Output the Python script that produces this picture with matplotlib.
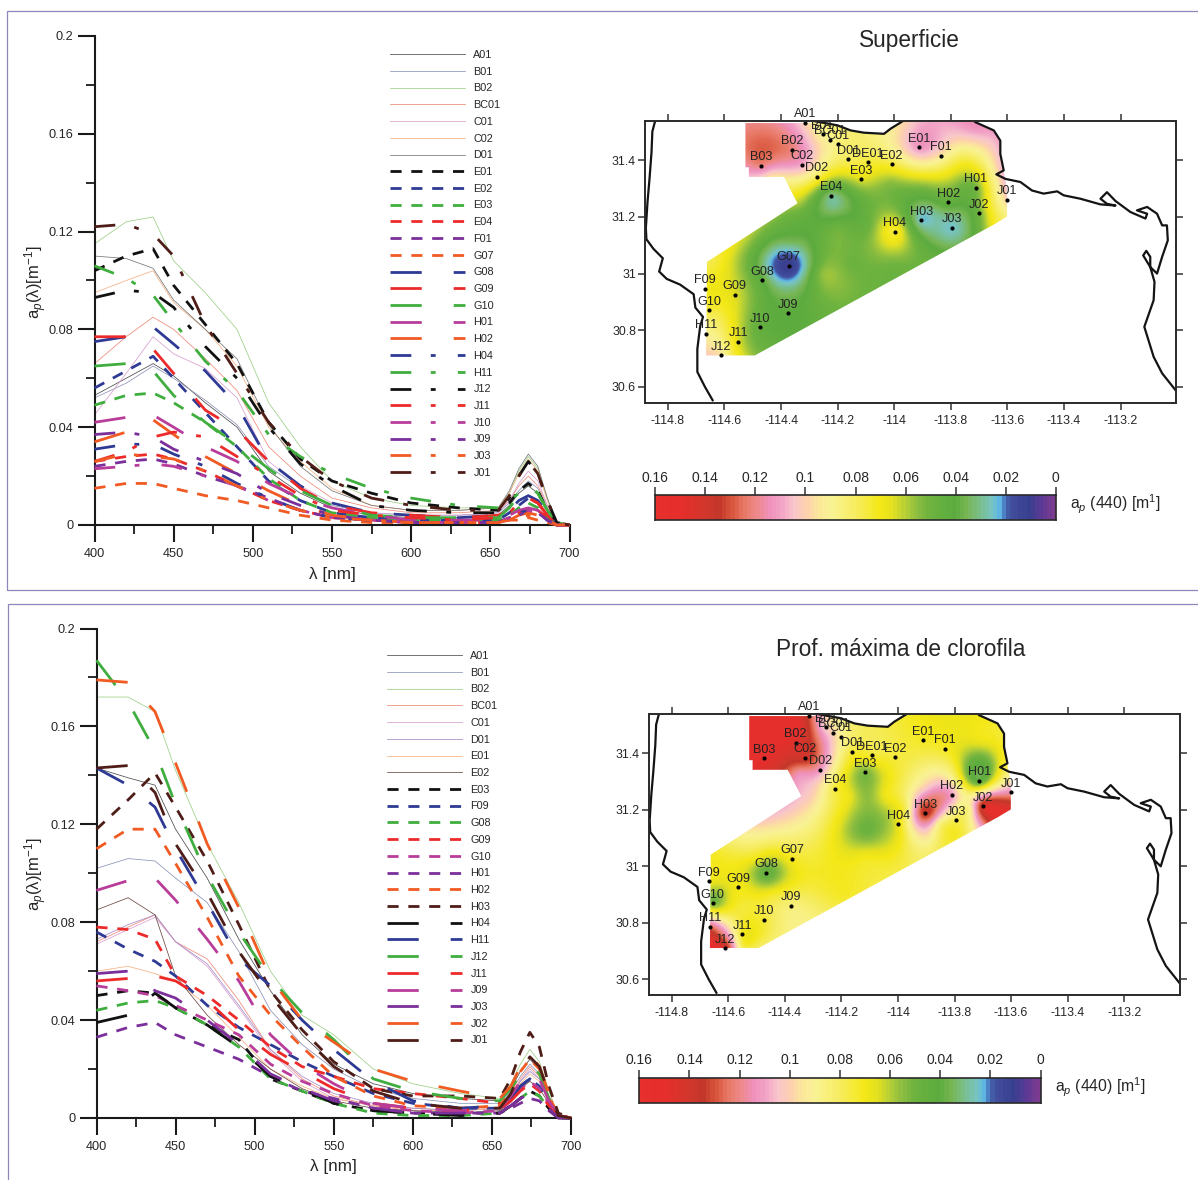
import numpy as np
import matplotlib
matplotlib.use('Agg')
import matplotlib.pyplot as plt
from matplotlib.colors import LinearSegmentedColormap, Normalize
from matplotlib.patches import Polygon, Rectangle
from matplotlib.ticker import FixedLocator, FixedFormatter

plt.rcParams['font.family'] = ['Liberation Sans', 'DejaVu Sans']
plt.rcParams['mathtext.fontset'] = 'custom'
plt.rcParams['mathtext.rm'] = 'Liberation Sans'
plt.rcParams['mathtext.it'] = 'Liberation Sans:italic'
plt.rcParams['lines.scale_dashes'] = False
plt.rcParams['text.color'] = '#262626'
plt.rcParams['xtick.labelcolor'] = '#262626'
plt.rcParams['ytick.labelcolor'] = '#262626'

W, H = 1198, 1180

# ---------- spectra: wavelengths shared by all series ----------
WL = [400, 420, 437, 450, 470, 490, 510, 530, 550, 575, 600, 630, 655, 662, 668, 674, 680, 686, 692, 700]

TOP_NAMES = ['A01', 'B01', 'B02', 'BC01', 'C01', 'C02', 'D01',
             'E01', 'E02', 'E03', 'E04', 'F01', 'G07',
             'G08', 'G09', 'G10', 'H01', 'H02',
             'H04', 'H11', 'J12', 'J11', 'J10', 'J09', 'J03', 'J01']
TOP_SPECTRA = [
    [.053, .060, .066, .061, .050, .040, .022, .013, .007, .004, .003, .003, .004, .008, .013, .016, .013, .006, .001, 0],
    [.052, .058, .065, .060, .051, .041, .024, .015, .008, .005, .004, .004, .005, .009, .014, .018, .015, .007, .001, 0],
    [.115, .124, .126, .108, .095, .080, .050, .032, .018, .011, .008, .007, .007, .013, .022, .028, .023, .011, .001, 0],
    [.066, .077, .085, .080, .068, .055, .032, .020, .011, .007, .005, .005, .006, .010, .016, .020, .016, .008, .001, 0],
    [.045, .062, .077, .070, .064, .052, .026, .016, .009, .005, .004, .004, .005, .010, .017, .022, .018, .008, .001, 0],
    [.095, .100, .104, .091, .080, .065, .040, .026, .015, .008, .006, .006, .007, .013, .021, .027, .022, .010, .001, 0],
    [.110, .109, .105, .092, .080, .068, .041, .024, .014, .008, .006, .006, .007, .014, .023, .029, .024, .011, .001, 0],
    [.104, .110, .113, .098, .082, .066, .042, .027, .018, .013, .009, .007, .006, .009, .014, .017, .014, .006, .001, 0],
    [.056, .063, .069, .060, .046, .032, .018, .010, .005, .003, .002, .002, .002, .005, .008, .011, .009, .004, 0, 0],
    [.049, .053, .054, .050, .042, .032, .019, .010, .005, .003, .002, .002, .002, .004, .007, .009, .007, .003, 0, 0],
    [.026, .028, .029, .027, .022, .016, .010, .006, .003, .002, .001, .001, .001, .003, .005, .007, .006, .003, 0, 0],
    [.024, .026, .027, .025, .020, .016, .011, .006, .003, .002, .001, .001, .001, .003, .004, .006, .005, .002, 0, 0],
    [.015, .017, .017, .015, .012, .010, .007, .004, .002, .001, .001, .001, .001, .002, .002, .003, .002, .001, 0, 0],
    [.075, .077, .081, .074, .063, .049, .026, .016, .009, .005, .004, .003, .004, .006, .010, .012, .010, .005, 0, 0],
    [.077, .077, .072, .062, .047, .039, .026, .015, .008, .005, .004, .003, .004, .006, .009, .011, .009, .004, 0, 0],
    [.065, .066, .063, .053, .042, .033, .023, .014, .008, .004, .003, .003, .003, .007, .012, .016, .013, .006, .001, 0],
    [.042, .044, .045, .040, .032, .026, .017, .011, .007, .004, .002, .002, .002, .004, .006, .007, .006, .003, 0, 0],
    [.034, .038, .043, .037, .028, .021, .014, .008, .004, .002, .001, .001, .001, .002, .004, .005, .004, .002, 0, 0],
    [.031, .033, .033, .029, .024, .017, .011, .006, .003, .002, .001, .001, .001, .003, .005, .006, .005, .002, 0, 0],
    [.106, .101, .094, .083, .067, .055, .037, .028, .021, .015, .011, .008, .007, .010, .013, .016, .013, .006, .001, 0],
    [.093, .096, .095, .089, .073, .060, .040, .025, .016, .008, .006, .005, .005, .011, .020, .026, .021, .010, .001, 0],
    [.026, .030, .036, .038, .036, .028, .020, .012, .006, .004, .003, .002, .003, .005, .009, .011, .009, .004, 0, 0],
    [.023, .024, .025, .024, .020, .016, .010, .006, .003, .002, .001, .001, .001, .003, .004, .006, .005, .002, 0, 0],
    [.037, .038, .036, .031, .026, .021, .013, .008, .004, .002, .001, .001, .001, .003, .004, .006, .005, .002, 0, 0],
    [.026, .029, .028, .027, .022, .016, .010, .006, .003, .002, .001, .001, .001, .002, .003, .004, .003, .002, 0, 0],
    [.122, .123, .119, .110, .082, .062, .042, .028, .018, .011, .008, .006, .006, .012, .020, .026, .021, .010, .001, 0],
]
TOP_STYLES = ['thin'] * 7 + ['dash'] * 6 + ['long'] * 5 + ['dot'] * 8
TOP_COLORS = ['#4d4d4d', '#8c93b8', '#9ccf86', '#ef8a78', '#d9a0d0', '#f4b183', '#777777',
              '#111111', '#2e3a94', '#3fae3f', '#ed2a2a', '#7b2f9b', '#f15a22',
              '#2e3a94', '#ed2a2a', '#3fae3f', '#b83d9a', '#f15a22',
              '#2e3a94', '#3fae3f', '#111111', '#ed2a2a', '#b83d9a', '#7b2f9b', '#f15a22', '#4f1d18']

BOT_NAMES = ['A01', 'B01', 'B02', 'BC01', 'C01', 'D01', 'E01', 'E02',
             'E03', 'F09', 'G08', 'G09', 'G10', 'H01', 'H02', 'H03',
             'H04', 'H11', 'J12', 'J11', 'J09', 'J03', 'J02', 'J01']
BOT_SPECTRA = [
    [.143, .139, .136, .118, .098, .073, .052, .034, .022, .014, .010, .008, .007, .012, .019, .024, .020, .009, .001, 0],
    [.102, .106, .105, .098, .088, .068, .044, .030, .020, .012, .008, .006, .006, .011, .017, .022, .018, .008, .001, 0],
    [.172, .172, .166, .142, .112, .088, .060, .042, .034, .020, .014, .010, .008, .014, .022, .028, .023, .011, .001, 0],
    [.072, .078, .083, .072, .065, .048, .028, .016, .009, .005, .004, .003, .004, .009, .016, .021, .017, .008, .001, 0],
    [.071, .077, .082, .072, .062, .045, .027, .015, .008, .005, .003, .003, .004, .009, .015, .020, .016, .008, .001, 0],
    [.073, .079, .083, .072, .063, .046, .028, .017, .010, .006, .004, .003, .004, .008, .015, .019, .016, .007, .001, 0],
    [.060, .062, .059, .056, .046, .033, .020, .013, .008, .005, .003, .003, .004, .008, .014, .018, .015, .007, .001, 0],
    [.085, .090, .083, .058, .042, .030, .020, .012, .007, .004, .003, .002, .003, .007, .012, .015, .012, .006, .001, 0],
    [.050, .052, .051, .045, .038, .032, .016, .011, .006, .003, .002, .002, .002, .005, .008, .011, .009, .004, 0, 0],
    [.076, .069, .064, .058, .046, .037, .030, .023, .017, .010, .006, .004, .004, .008, .013, .016, .013, .006, .001, 0],
    [.044, .047, .048, .045, .038, .029, .016, .011, .006, .002, .001, .001, .002, .005, .008, .011, .009, .004, 0, 0],
    [.078, .077, .073, .058, .050, .040, .029, .021, .017, .012, .010, .008, .006, .008, .012, .014, .011, .005, .001, 0],
    [.054, .052, .050, .046, .040, .034, .022, .015, .010, .005, .003, .002, .003, .007, .012, .015, .012, .006, .001, 0],
    [.033, .037, .039, .034, .029, .024, .017, .011, .008, .004, .002, .002, .002, .004, .006, .008, .007, .003, 0, 0],
    [.110, .118, .118, .104, .082, .058, .042, .029, .017, .009, .005, .004, .005, .011, .019, .024, .020, .009, .001, 0],
    [.118, .130, .141, .127, .105, .079, .052, .036, .023, .012, .009, .009, .008, .016, .027, .035, .029, .013, .002, 0],
    [.039, .042, .051, .045, .038, .029, .017, .012, .006, .003, .002, .001, .002, .005, .008, .011, .009, .004, 0, 0],
    [.143, .136, .127, .110, .088, .065, .054, .040, .028, .015, .007, .004, .005, .008, .013, .016, .013, .006, .001, 0],
    [.187, .170, .150, .128, .099, .076, .057, .043, .032, .016, .011, .008, .007, .012, .018, .022, .018, .008, .001, 0],
    [.056, .057, .058, .056, .048, .036, .026, .019, .012, .006, .004, .003, .004, .007, .011, .014, .011, .005, .001, 0],
    [.093, .097, .098, .089, .073, .056, .034, .022, .014, .006, .004, .003, .004, .009, .015, .019, .016, .007, .001, 0],
    [.059, .060, .052, .049, .040, .030, .018, .012, .007, .004, .002, .002, .002, .005, .008, .010, .008, .004, 0, 0],
    [.179, .178, .166, .145, .112, .086, .057, .040, .031, .020, .015, .011, .008, .013, .021, .026, .021, .010, .001, 0],
    [.143, .144, .133, .112, .092, .068, .050, .034, .021, .011, .006, .004, .004, .010, .019, .025, .021, .010, .001, 0],
]
BOT_STYLES = ['thin'] * 8 + ['dash'] * 8 + ['long'] * 8
BOT_COLORS = ['#4d4d4d', '#8c93b8', '#9ccf86', '#ef8a78', '#d9a0d0', '#a58cc8', '#f4b183', '#6b4a44',
              '#111111', '#2e3a94', '#3fae3f', '#ed2a2a', '#b83d9a', '#7b2f9b', '#f15a22', '#4f1d18',
              '#111111', '#2e3a94', '#3fae3f', '#ed2a2a', '#b83d9a', '#7b2f9b', '#f15a22', '#4f1d18']

Y_TICKS = [0, .04, .08, .12, .16, .2]
Y_LABELS = ['0', '0.04', '0.08', '0.12', '0.16', '0.2']
X_TICKS = [400, 450, 500, 550, 600, 650, 700]

# ---------- stations ----------
ST_NAMES = ['A01', 'B01', 'BC01', 'C01', 'B02', 'B03', 'C02', 'D02', 'D01', 'DE01', 'E02', 'E03', 'E04',
            'E01', 'F01', 'H01', 'H02', 'H03', 'H04', 'J01', 'J02', 'J03', 'G07', 'G08', 'G09', 'F09',
            'G10', 'H11', 'J12', 'J11', 'J10', 'J09']
ST_LON = [-114.315, -114.253, -114.228, -114.200, -114.362, -114.472, -114.327, -114.274, -114.162, -114.092,
          -114.009, -114.116, -114.223, -113.911, -113.834, -113.712, -113.809, -113.904, -113.999, -113.601,
          -113.699, -113.795, -114.373, -114.466, -114.564, -114.668, -114.655, -114.665, -114.611, -114.551,
          -114.474, -114.377]
ST_LAT = [31.532, 31.492, 31.472, 31.457, 31.437, 31.381, 31.384, 31.341, 31.404, 31.392,
          31.385, 31.332, 31.274, 31.445, 31.415, 31.303, 31.252, 31.188, 31.148, 31.261,
          31.212, 31.162, 31.027, 30.977, 30.925, 30.947, 30.870, 30.787, 30.711, 30.759,
          30.811, 30.860]
ST_TOP = [.100, .090, .090, .085, .122, .122, .110, .080, .080, .075, .075, .065, .030,
          .113, .095, .050, .045, .024, .075, .100, .050, .024, .008, .040, .065, .070,
          .075, .090, .095, .065, .045, .040]
ST_BOT = [.130, .100, .100, .090, .145, .150, .140, .112, .075, .075, .075, .052, .075,
          .072, .072, .040, .112, .140, .068, .115, .145, .078, .072, .045, .070, .070,
          .050, .125, .140, .072, .075, .085]

EX_TOP_LON = [-114.526, -114.432, -114.526, -114.432, -114.350, -114.342, -114.637, -114.500, -114.365, -114.200,
              -114.215, -114.160, -114.257, -114.365, -114.013, -114.095, -113.905, -114.000, -113.820, -113.743,
              -113.650, -113.605, -113.605, -113.635, -113.824, -113.716, -113.960, -113.757, -113.892, -114.014,
              -113.797, -113.676, -113.676, -114.432, -114.500, -114.581, -114.660, -114.460, -114.581, -114.297,
              -114.378, -114.230, -114.095, -114.581, -114.635, -114.370, -113.850]
EX_TOP_LAT = [31.531, 31.508, 31.375, 31.341, 31.330, 31.248, 31.027, 31.120, 31.210, 31.160,
              31.215, 31.030, 31.000, 30.830, 31.135, 31.160, 31.107, 31.030, 31.050, 31.127,
              31.175, 31.200, 31.350, 31.500, 31.515, 31.508, 31.520, 31.415, 31.335, 31.320,
              31.335, 31.320, 31.240, 30.760, 30.720, 30.713, 30.715, 31.027, 31.040, 31.027,
              30.947, 30.894, 30.987, 30.854, 30.840, 31.110, 31.170]
EX_TOP_VAL = [.120, .122, .115, .095, .090, .060, .075, .055, .050, .050,
              .034, .050, .055, .040, .072, .048, .045, .050, .045, .035,
              .070, .085, .110, .112, .108, .112, .100, .080, .065, .055,
              .062, .070, .065, .045, .055, .080, .100, .030, .065, .035,
              .030, .050, .050, .070, .080, .035, .028]

EX_BOT_LON = [-114.520, -114.430, -114.350, -114.520, -114.430, -114.350, -114.300, -114.110, -114.170, -114.050,
              -114.230, -113.990, -114.110, -114.110, -114.180, -114.040, -113.900, -113.900, -113.850, -113.970,
              -113.680, -113.620, -113.750, -113.700, -113.710, -113.710, -113.630, -113.800, -113.900, -113.700,
              -114.000, -114.500, -114.450, -114.300, -114.350, -114.200, -114.660, -114.600, -114.550, -114.650,
              -114.600, -114.550, -114.500, -114.250]
EX_BOT_LAT = [31.530, 31.500, 31.500, 31.350, 31.340, 31.330, 31.250, 31.115, 31.115, 31.115,
              31.115, 31.115, 31.035, 31.250, 31.250, 31.250, 31.270, 31.100, 31.150, 31.200,
              31.200, 31.210, 31.200, 31.130, 31.360, 31.440, 31.340, 31.350, 31.500, 31.520,
              31.300, 31.030, 30.900, 30.950, 30.800, 30.900, 31.040, 30.880, 30.850, 30.720,
              30.720, 30.720, 30.720, 31.050]
EX_BOT_VAL = [.150, .150, .150, .150, .140, .115, .100, .050, .057, .057,
              .070, .070, .070, .055, .070, .070, .105, .095, .085, .080,
              .150, .145, .085, .110, .040, .068, .075, .075, .070, .070,
              .075, .070, .072, .073, .088, .072, .072, .065, .075, .150,
              .130, .075, .078, .072]

# ---------- coast and sampled area, lon/lat ----------
WEST_LON = [-114.845, -114.855, -114.858, -114.865, -114.872, -114.878, -114.876, -114.851, -114.818, -114.831,
            -114.804, -114.757, -114.709, -114.703, -114.676, -114.686, -114.696, -114.696, -114.669, -114.642]
WEST_LAT = [31.539, 31.501, 31.428, 31.335, 31.254, 31.161, 31.121, 31.087, 31.054, 31.007,
            30.981, 30.961, 30.927, 30.880, 30.847, 30.814, 30.734, 30.653, 30.600, 30.553]
NORTH_LON = [-114.278, -114.201, -114.154, -114.107, -114.036, -114.013, -113.966]
NORTH_LAT = [31.537, 31.523, 31.505, 31.497, 31.493, 31.511, 31.540]
EAST_LON = [-113.713, -113.648, -113.625, -113.625, -113.613, -113.639, -113.607, -113.554, -113.513, -113.472,
            -113.424, -113.401, -113.342, -113.271, -113.218, -113.248, -113.271, -113.248, -113.218, -113.165,
            -113.112, -113.106, -113.142, -113.106, -113.071, -113.053, -113.036, -113.033, -113.053, -113.071,
            -113.095, -113.120, -113.109, -113.095, -113.095, -113.080, -113.083, -113.116, -113.083, -113.053,
            -113.006]
EAST_LAT = [31.534, 31.505, 31.469, 31.422, 31.364, 31.350, 31.334, 31.323, 31.293, 31.282,
            31.290, 31.276, 31.264, 31.244, 31.240, 31.246, 31.264, 31.287, 31.256, 31.217,
            31.194, 31.211, 31.223, 31.235, 31.211, 31.170, 31.170, 31.117, 31.059, 31.000,
            31.023, 31.064, 31.080, 31.059, 31.023, 30.971, 30.906, 30.812, 30.706, 30.648,
            30.589]
AREA_LON = [-114.526, -114.300, -114.278, -114.201, -114.154, -114.107, -114.036, -114.013, -113.966, -113.713,
            -113.648, -113.625, -113.625, -113.611, -113.601, -113.601, -113.646, -114.493, -114.665, -114.662,
            -114.342, -114.390, -114.514, -114.514, -114.526]
AREA_LAT = [31.531, 31.531, 31.537, 31.523, 31.505, 31.497, 31.493, 31.511, 31.535, 31.535,
            31.505, 31.469, 31.422, 31.348, 31.294, 31.201, 31.174, 30.711, 30.711, 31.041,
            31.248, 31.341, 31.341, 31.375, 31.375]

LON_TICKS = [-114.8, -114.6, -114.4, -114.2, -114, -113.8, -113.6, -113.4, -113.2]
LON_LABELS = ['-114.8', '-114.6', '-114.4', '-114.2', '-114', '-113.8', '-113.6', '-113.4', '-113.2']
LAT_TICKS = [30.6, 30.8, 31, 31.2, 31.4]
LAT_LABELS = ['30.6', '30.8', '31', '31.2', '31.4']

# ---------- colour scale ----------
CB_VALUES = [0, .005, .01, .018, .02, .022, .025, .03, .035, .04, .05, .055, .06, .065, .07, .08, .085, .09,
             .095, .1, .105, .11, .115, .12, .125, .13, .135, .14, .15, .16]
CB_COLORS = ['#7b3b8f', '#5a3a95', '#393f8f', '#42509f', '#4a7cc0', '#5fb8e4', '#78c3c0', '#79bd8a', '#78b654',
             '#5cab3f', '#6db33f', '#8cbd40', '#b6d036', '#e4e020', '#f4e816', '#f6ec60', '#f8f07a', '#f9f294',
             '#fbe79b', '#fdd0b0', '#f8c5cc', '#f2a3c6', '#ef8fba', '#ee8a8a', '#e87865', '#d9553c', '#c2362a',
             '#d0372c', '#e52f2c', '#e8302e']
CB_TICKS = [.16, .14, .12, .1, .08, .06, .04, .02, 0]
CB_LABELS = ['0.16', '0.14', '0.12', '0.1', '0.08', '0.06', '0.04', '0.02', '0']

DASHES = {'thin': '-',
          'dash': (0, (8.0, 7.0)),
          'long': (0, (22.5, 23.0)),
          'dot': (0, (15.0, 14.0, 3.5, 16.0))}
WIDTHS = {'thin': 0.55, 'dash': 2.0, 'long': 2.0, 'dot': 2.0}

fig = plt.figure(figsize=(W / 100, H / 100), dpi=100, facecolor='white')


def axes_px(x0, y0, x1, y1):
    return fig.add_axes([x0 / W, 1 - y1 / H, (x1 - x0) / W, (y1 - y0) / H])


def fig_text(x, y, s, **kw):
    fig.text(x / W, 1 - y / H, s, ha=kw.pop('ha', 'center'), va=kw.pop('va', 'center'), **kw)


for x0, y0, x1, y1 in [(6.5, 10.5, 1205, 589.5), (7.5, 603.5, 1205, 1190)]:
    fig.add_artist(Rectangle((x0 / W, 1 - y1 / H), (x1 - x0) / W, (y1 - y0) / H, fill=False,
                             edgecolor='#8f86bd', linewidth=0.9, transform=fig.transFigure))


def spectra_panel(box, names, spectra, styles, colors, legend_xy, label_xy, xlabel_xy):
    ax = axes_px(*box)
    for name, vals, st, col in zip(names, spectra, styles, colors):
        ax.plot(WL, vals, color=col, lw=WIDTHS[st], ls=DASHES[st], dash_capstyle='butt', label=name,
                zorder=2 if st == 'thin' else 3, clip_on=False)
    ax.set_xlim(400, 700)
    ax.set_ylim(0, .2)
    for s in ('top', 'right'):
        ax.spines[s].set_visible(False)
    for s in ('left', 'bottom'):
        ax.spines[s].set_linewidth(1.5)
        ax.spines[s].set_color('#1a1a1a')
    ax.xaxis.set_major_locator(FixedLocator(X_TICKS))
    ax.xaxis.set_minor_locator(FixedLocator([425, 475, 525, 575, 625, 675]))
    ax.yaxis.set_major_locator(FixedLocator(Y_TICKS))
    ax.yaxis.set_major_formatter(FixedFormatter(Y_LABELS))
    ax.yaxis.set_minor_locator(FixedLocator([.02, .06, .1, .14, .18]))
    ax.tick_params(which='major', length=12, width=1.5, color='#1a1a1a', labelsize=9.2, pad=3)
    ax.tick_params(which='minor', length=6.5, width=1.3, color='#1a1a1a')
    ax.tick_params(axis='x', which='major', pad=4.5)
    handles, labels = ax.get_legend_handles_labels()
    ax.legend(handles, labels, loc='upper left', frameon=False, fontsize=7.8,
              bbox_to_anchor=((legend_xy[0] - box[0]) / (box[2] - box[0]),
                              1 - (legend_xy[1] - box[1]) / (box[3] - box[1])),
              borderaxespad=0, borderpad=0, handlelength=6.95, handletextpad=0.75,
              labelspacing=0.62)
    fig_text(label_xy[0], label_xy[1], 'a$_{p}$(λ)[m$^{-1}$]', rotation=90, fontsize=12)
    fig_text(xlabel_xy[0], xlabel_xy[1], 'λ [nm]', fontsize=12.3)
    return ax


spectra_panel((94.5, 36, 569.5, 525), TOP_NAMES, TOP_SPECTRA, TOP_STYLES, TOP_COLORS,
              (390, 50), (36, 282), (332, 575))
spectra_panel((96.5, 628.5, 571, 1118), BOT_NAMES, BOT_SPECTRA, BOT_STYLES, BOT_COLORS,
              (387, 651), (36, 874), (333, 1167))

stops = [(v / .16, c) for v, c in zip(CB_VALUES, CB_COLORS)]
cmap = LinearSegmentedColormap.from_list('ap', stops, N=256)
cmap_bands = LinearSegmentedColormap.from_list('ap96', stops, N=96)
norm = Normalize(0, .16)


def smooth_field(lon, lat, val, glon, glat):
    """Thin-plate surface through the values read at the control points."""
    px, py, v = np.asarray(lon), np.asarray(lat), np.asarray(val)

    def kernel(r2):
        out = np.zeros_like(r2)
        ok = r2 > 0
        out[ok] = 0.5 * r2[ok] * np.log(r2[ok])
        return out
    K = kernel((px[:, None] - px[None, :]) ** 2 + (py[:, None] - py[None, :]) ** 2) + 2e-4 * np.eye(len(px))
    P = np.c_[np.ones_like(px), px, py]
    A = np.block([[K, P], [P.T, np.zeros((3, 3))]])
    sol = np.linalg.solve(A, np.r_[v, np.zeros(3)])
    gx, gy = np.meshgrid(glon, glat)
    r2 = (gx[..., None] - px) ** 2 + (gy[..., None] - py) ** 2
    return kernel(r2) @ sol[:len(px)] + sol[-3] + sol[-2] * gx + sol[-1] * gy


def map_panel(box, station_vals, ex_lon, ex_lat, ex_val, title_xy, title, cb_box, cb_label_xy):
    ax = axes_px(*box)
    glon = np.linspace(-114.70, -113.58, 340)
    glat = np.linspace(30.69, 31.55, 260)
    z = smooth_field(ST_LON + ex_lon, ST_LAT + ex_lat, station_vals + ex_val, glon, glat)
    im = ax.imshow(z, extent=(glon[0], glon[-1], glat[0], glat[-1]), origin='lower', cmap=cmap, norm=norm,
                   aspect='auto', interpolation='bilinear', zorder=1)
    clip = Polygon(np.c_[AREA_LON, AREA_LAT], closed=True, transform=ax.transData, fill=False, edgecolor='none')
    ax.add_patch(clip)
    im.set_clip_path(clip)
    for lo, la in [(WEST_LON, WEST_LAT), (NORTH_LON, NORTH_LAT), (EAST_LON, EAST_LAT)]:
        ax.plot(lo, la, color='#141414', lw=1.6, zorder=2)
    ax.scatter(ST_LON, ST_LAT, s=9, color='black', linewidths=0, zorder=4, clip_on=False)
    for n, lo, la in zip(ST_NAMES, ST_LON, ST_LAT):
        ax.annotate(n, (lo, la), xytext=(0, 1.8), textcoords='offset points', ha='center', va='bottom',
                    fontsize=9.1, color='#222222', zorder=5, annotation_clip=False)
    ax.set_xlim(-114.881, -113.004)
    ax.set_ylim(30.545, 31.54)
    ax.xaxis.set_major_locator(FixedLocator(LON_TICKS))
    ax.xaxis.set_major_formatter(FixedFormatter(LON_LABELS))
    ax.yaxis.set_major_locator(FixedLocator(LAT_TICKS))
    ax.yaxis.set_major_formatter(FixedFormatter(LAT_LABELS))
    ax.tick_params(top=True, right=True, length=5, width=1.1, color='#333333', labelsize=8.9, pad=1.5)
    ax.tick_params(axis='x', pad=4)
    for s in ax.spines.values():
        s.set_linewidth(1.4)
        s.set_color('#2a2a2a')
        s.set_zorder(6)
    fig_text(title_xy[0], title_xy[1], title, fontsize=16.3)

    cax = axes_px(*cb_box)
    edges = np.linspace(0, .16, 97)
    cax.pcolormesh(edges, [0, 1], ((edges[:-1] + edges[1:]) / 2)[None, :], cmap=cmap_bands, norm=norm)
    cax.set_xlim(.16, 0)
    cax.set_ylim(0, 1)
    cax.set_yticks([])
    cax.xaxis.set_ticks_position('top')
    cax.xaxis.set_major_locator(FixedLocator(CB_TICKS))
    cax.xaxis.set_major_formatter(FixedFormatter(CB_LABELS))
    cax.tick_params(length=6, width=1.1, color='#333333', labelsize=10, pad=1.5)
    for s in cax.spines.values():
        s.set_linewidth(1.2)
        s.set_color('#2a2a2a')
    fig_text(cb_label_xy[0], cb_label_xy[1], 'a$_{p}$ (440) [m$^{1}$]', fontsize=11.3, ha='left')


map_panel((645, 120.5, 1176, 402.5), ST_TOP, EX_TOP_LON, EX_TOP_LAT, EX_TOP_VAL,
          (909, 40), 'Superficie', (655.3, 495, 1055.8, 520), (1070, 504))
map_panel((648.8, 713.5, 1179.7, 995), ST_BOT, EX_BOT_LON, EX_BOT_LAT, EX_BOT_VAL,
          (901, 649), 'Prof. máxima de clorofila', (639.3, 1077.5, 1040.5, 1102.5), (1055, 1087))

fig.savefig('out.png', dpi=100, facecolor='white')
